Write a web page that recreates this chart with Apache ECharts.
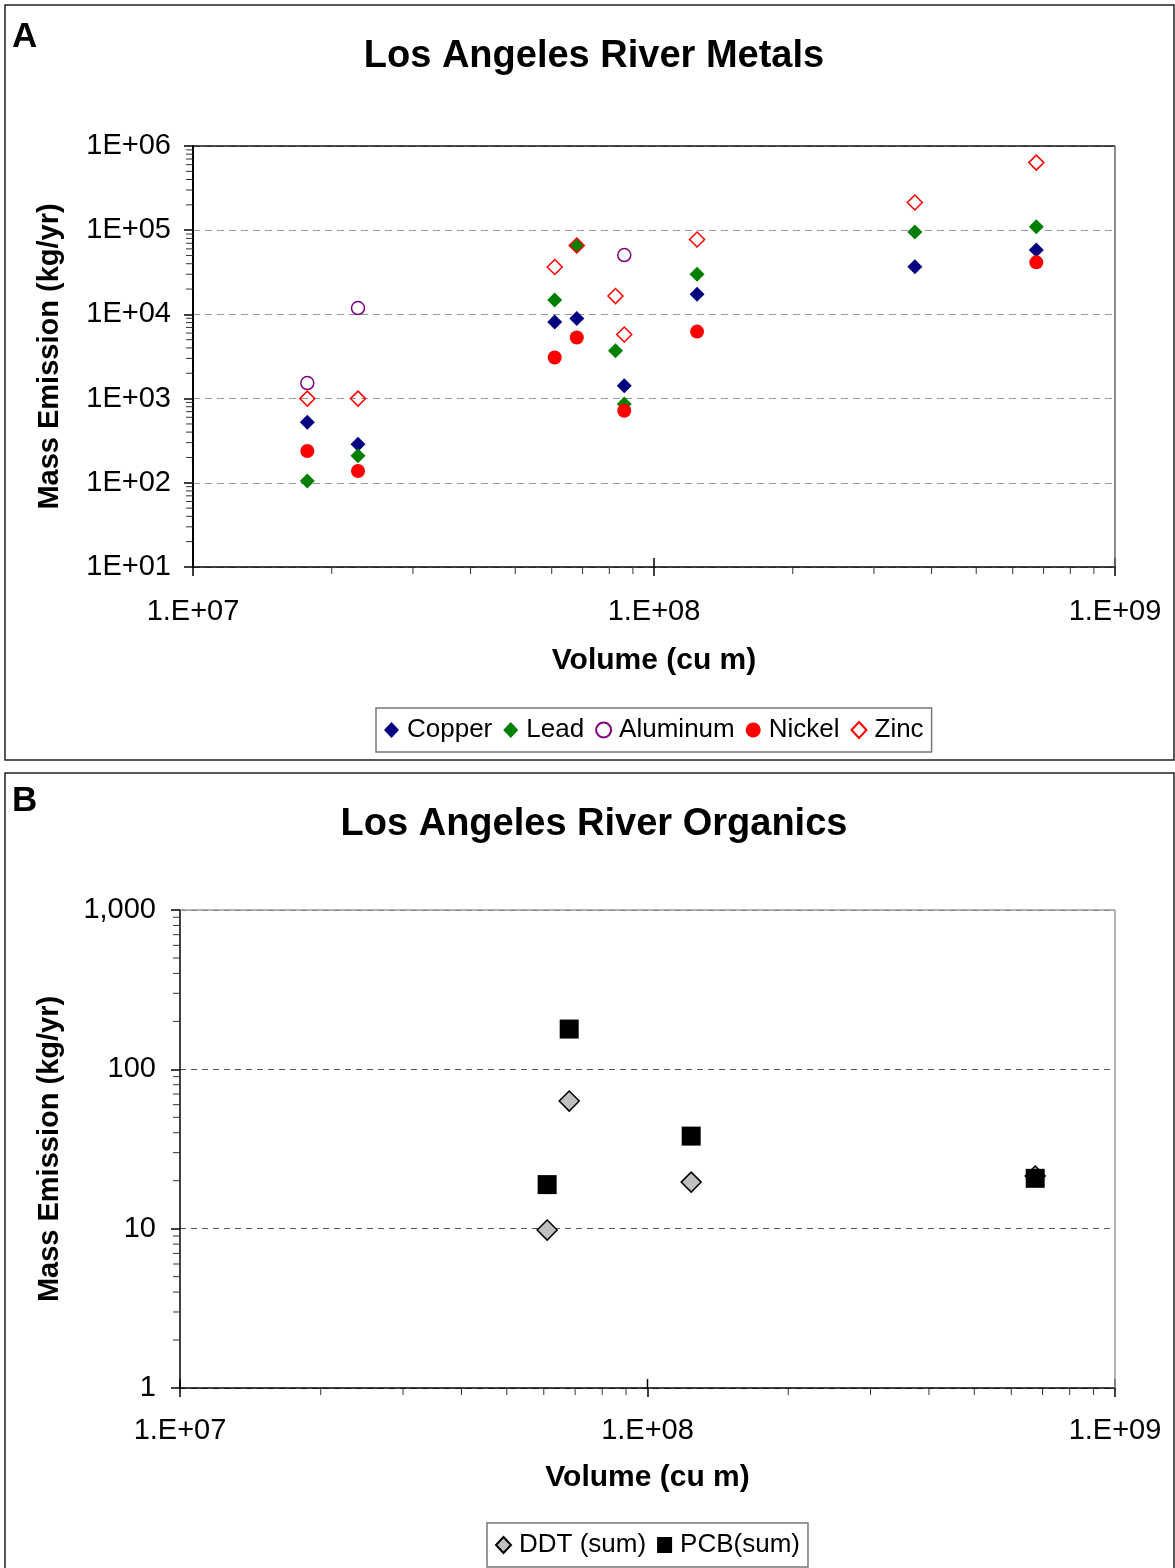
<!DOCTYPE html>
<html>
<head>
<meta charset="utf-8">
<title>Los Angeles River</title>
<script src="https://cdn.jsdelivr.net/npm/echarts@6/dist/echarts.min.js"></script>
<style>
  html, body { margin: 0; padding: 0; background: #fff; }
  #chart { width: 1175px; height: 1568px; }
</style>
</head>
<body>
<div id="chart"></div>
<script>
// panel A - metals, one x value per sampled storm volume
var metalVolume = [1.77e7, 2.28e7, 6.09e7, 6.80e7, 8.25e7, 8.62e7, 1.24e8, 3.68e8, 6.75e8]
var copper   = [522, 287, 8140, 8920, null, 1420, 17300, 36800, 58000]
var lead     = [105, 210, 14800, 65000, 3690, 861, 29900, 94900, 110000]
var aluminum = [1530, 11900, null, null, null, 50700, null, null, null]
var nickel   = [239, 138, 3080, 5310, null, 718, 6250, null, 41500]
var zinc     = [1000, 1000, 36500, 65900, 16500, 5770, 77600, 213000, 635000]

// panel B - organics
var orgVolume = [6.10e7, 6.80e7, 1.24e8, 6.75e8]
var ddt = [9.8, 63.2, 19.6, 21.4]
var pcb = [18.9, 179, 38.1, 20.7]

var metalNames = ['Copper', 'Lead', 'Aluminum', 'Nickel', 'Zinc']
var orgNames = ['DDT (sum)', 'PCB(sum)']

var FONT = '"Liberation Sans", Arial, sans-serif'
var HOLLOW = 'rgba(255,255,255,0)'

function pairs(xs, ys) {
	var out = []
	for (var i = 0; i < xs.length; i++) {
		if (ys[i] != null) out.push([xs[i], ys[i]])
	}
	return out
}

function exp10(v) {
	return Math.round(Math.log10(v))
}

function pad2(n) {
	return (n < 10 ? '0' : '') + n
}

function xLabel(v) {
	return '1.E+' + pad2(exp10(v))
}

function scatter(name, data, gi, symbol, size, style) {
	style.opacity = 1
	return {
		name: name,
		type: 'scatter',
		xAxisIndex: gi,
		yAxisIndex: gi,
		data: data,
		symbol: symbol,
		symbolSize: size,
		itemStyle: style,
		emphasis: { disabled: true }
	}
}

function xAxisOf(gi) {
	return {
		type: 'log',
		gridIndex: gi,
		min: 1e7,
		max: 1e9,
		name: 'Volume (cu m)',
		nameLocation: 'middle',
		nameGap: gi === 0 ? 79 : 75,
		nameTextStyle: { fontFamily: FONT, fontSize: 30, fontWeight: 'bold', color: '#000' },
		axisLine: { lineStyle: { color: '#000', width: 1.5 } },
		axisTick: { length: 9, lineStyle: { color: '#000', width: 1.5 } },
		axisLabel: { formatter: xLabel, margin: gi === 0 ? 30 : 28, fontFamily: FONT, fontSize: 29, color: '#000' },
		splitLine: { show: false }
	}
}

var chart = echarts.init(document.getElementById('chart'))

chart.setOption({
	animation: false,
	backgroundColor: '#fff',
	grid: [
		{ left: 193, right: 60, top: 146, height: 421 },
		{ left: 180, right: 60, top: 910, height: 478 }
	],
	xAxis: [xAxisOf(0), xAxisOf(1)],
	yAxis: [
		{
			type: 'log',
			gridIndex: 0,
			min: 10,
			max: 1e6,
			name: 'Mass Emission (kg/yr)',
			nameLocation: 'middle',
			nameGap: 129,
			nameTextStyle: { fontFamily: FONT, fontSize: 29, fontWeight: 'bold', color: '#000' },
			axisLine: { lineStyle: { color: '#000', width: 2 } },
			axisTick: { length: 9, lineStyle: { color: '#000', width: 1.5 } },
			axisLabel: {
				formatter: function (v) { return '1E+' + pad2(exp10(v)) },
				margin: 22, fontFamily: FONT, fontSize: 29, color: '#000'
			},
			splitLine: { lineStyle: { color: '#999', type: [7, 5], width: 1 } }
		},
		{
			type: 'log',
			gridIndex: 1,
			min: 1,
			max: 1000,
			name: 'Mass Emission (kg/yr)',
			nameLocation: 'middle',
			nameGap: 116,
			nameTextStyle: { fontFamily: FONT, fontSize: 29, fontWeight: 'bold', color: '#000' },
			axisLine: { lineStyle: { color: '#000', width: 1.5 } },
			axisTick: { length: 9, lineStyle: { color: '#000', width: 1.5 } },
			axisLabel: {
				formatter: function (v) { return String(Math.round(v)).replace(/\B(?=(\d{3})+(?!\d))/g, ',') },
				margin: 24, fontFamily: FONT, fontSize: 29, color: '#000'
			},
			splitLine: { lineStyle: { color: '#555', type: [6, 5], width: 1 } }
		}
	],
	legend: [
		{
			data: metalNames,
			left: 376,
			top: 708,
			orient: 'horizontal',
			padding: [9, 8],
			itemGap: 11,
			itemWidth: 15,
			itemHeight: 16,
			borderColor: '#777',
			borderWidth: 1.5,
			borderRadius: 0,
			selectedMode: false,
			textStyle: { fontFamily: FONT, fontSize: 26, color: '#000', padding: [0, 0, 0, 3] }
		},
		{
			data: orgNames,
			left: 487,
			top: 1523,
			orient: 'horizontal',
			padding: [9, 8],
			itemGap: 11,
			itemWidth: 15,
			itemHeight: 16,
			borderColor: '#777',
			borderWidth: 1.5,
			borderRadius: 0,
			selectedMode: false,
			textStyle: { fontFamily: FONT, fontSize: 26, color: '#000', padding: [0, 0, 0, 3] }
		}
	],
	series: [
		scatter('Copper', pairs(metalVolume, copper), 0, 'diamond', 15, { color: '#000080' }),
		scatter('Lead', pairs(metalVolume, lead), 0, 'diamond', 15, { color: '#008000' }),
		scatter('Aluminum', pairs(metalVolume, aluminum), 0, 'circle', 13,
			{ color: HOLLOW, borderColor: '#800080', borderWidth: 1.5 }),
		scatter('Nickel', pairs(metalVolume, nickel), 0, 'circle', 14, { color: '#ff0000' }),
		scatter('Zinc', pairs(metalVolume, zinc), 0, 'diamond', 15,
			{ color: HOLLOW, borderColor: '#ff0000', borderWidth: 1.5 }),
		scatter('DDT (sum)', pairs(orgVolume, ddt), 1, 'diamond', 20,
			{ color: '#c0c0c0', borderColor: '#000', borderWidth: 1.5 }),
		scatter('PCB(sum)', pairs(orgVolume, pcb), 1, 'rect', 19, { color: '#000' })
	]
})

// Excel-style minor ticks (2..9 in each decade) placed through the axes' own scales
function axisDecor(gi, xMin, xMax, yMin, yMax, topColor, rightColor) {
	var els = []
	var x0 = chart.convertToPixel({ xAxisIndex: gi }, xMin)
	var x1 = chart.convertToPixel({ xAxisIndex: gi }, xMax)
	var y0 = chart.convertToPixel({ yAxisIndex: gi }, yMin)
	var y1 = chart.convertToPixel({ yAxisIndex: gi }, yMax)
	var d, m, p
	// plot frame (top and right) drawn over the dashed split line at max
	els.push({ type: 'line', silent: true, z: 6,
		shape: { x1: x0, y1: y1, x2: x1, y2: y1 },
		style: { stroke: topColor, lineWidth: 1.5 } })
	els.push({ type: 'line', silent: true, z: 6,
		shape: { x1: x1, y1: y1, x2: x1, y2: y0 },
		style: { stroke: rightColor, lineWidth: 1.5 } })
	for (d = xMin; d < xMax; d *= 10) {
		for (m = 2; m <= 9; m++) {
			p = chart.convertToPixel({ xAxisIndex: gi }, m * d)
			els.push({ type: 'line', silent: true, z: 5,
				shape: { x1: p, y1: y0, x2: p, y2: y0 + 7 },
				style: { stroke: '#333', lineWidth: 1 } })
		}
	}
	// major x ticks cross the axis
	for (d = xMin; d <= xMax * 1.0001; d *= 10) {
		p = chart.convertToPixel({ xAxisIndex: gi }, d)
		els.push({ type: 'line', silent: true, z: 5,
			shape: { x1: p, y1: y0 - 9, x2: p, y2: y0 },
			style: { stroke: '#000', lineWidth: 1.5 } })
	}
	for (d = yMin; d < yMax; d *= 10) {
		for (m = 2; m <= 9; m++) {
			p = chart.convertToPixel({ yAxisIndex: gi }, m * d)
			els.push({ type: 'line', silent: true, z: 5,
				shape: { x1: x0 - 7, y1: p, x2: x0, y2: p },
				style: { stroke: '#333', lineWidth: 1 } })
		}
	}
	return els
}

function label(text, x, y, size, align) {
	return {
		type: 'text', silent: true, z: 10,
		style: {
			x: x, y: y, text: text, fill: '#000',
			font: 'bold ' + size + 'px ' + FONT,
			textAlign: align, textVerticalAlign: 'middle'
		}
	}
}

var graphics = [
	{ type: 'rect', silent: true, z: -1, shape: { x: 5, y: 5, width: 1169, height: 755 },
		style: { fill: 'none', stroke: '#222', lineWidth: 1.5 } },
	{ type: 'rect', silent: true, z: -1, shape: { x: 5, y: 773, width: 1169, height: 805 },
		style: { fill: 'none', stroke: '#222', lineWidth: 1.5 } },
	label('A', 12, 37, 35, 'left'),
	label('B', 12, 801, 35, 'left'),
	label('Los Angeles River Metals', 594, 57, 38, 'center'),
	label('Los Angeles River Organics', 594, 825, 38, 'center')
]
graphics = graphics.concat(
	axisDecor(0, 1e7, 1e9, 10, 1e6, '#111', '#666'),
	axisDecor(1, 1e7, 1e9, 1, 1000, '#999', '#999')
)

chart.setOption({ graphic: graphics })
</script>
</body>
</html>
